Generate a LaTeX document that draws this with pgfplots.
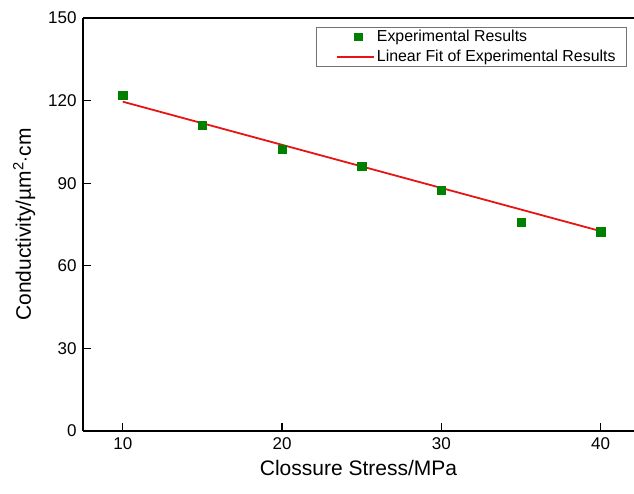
\documentclass[border=0pt]{standalone}
\usepackage{fontspec}
\setmainfont{Liberation Sans}
\usepackage{pgfplots}
\pgfplotsset{compat=1.18}
\definecolor{ptgreen}{RGB}{0,128,0}
\definecolor{fitred}{RGB}{232,20,20}
\pgfplotsset{
  markleg/.style={legend image code/.code={\path[draw=none] (0cm,0cm) -- (1.7cm,0cm);\draw[ptgreen] plot[mark=square*,mark size=3.8pt] coordinates {(1.15cm,0cm)};}},
  lineleg/.style={legend image code/.code={\path[draw=none] (0cm,0cm) -- (1.7cm,0cm);\draw[fitred,line width=1.8pt] (0.4cm,0cm) -- (1.7cm,0cm);}},
}

\begin{document}
\begin{tikzpicture}
\begin{axis}[
  scale only axis,
  width=551pt,height=413pt,
  xmin=7.5,xmax=42.1,
  ymin=0,ymax=150,
  xtick={10,20,30,40},
  ytick={0,30,...,150},
  axis lines=left,
  axis line style={-,line width=1.3pt},
  tick style={line width=1.2pt,black},
  tick align=inside,
  major tick length=8pt,
  ticklabel style={font=\fontsize{17}{20}\selectfont},
  /pgf/number format/assume math mode=true,
  xticklabel style={yshift=-3pt},
  yticklabel style={xshift=-3pt},
  xlabel={Clossure Stress/MPa},
  ylabel={Conductivity/\textmu m\textsuperscript{2}$\cdot$cm},
  label style={font=\fontsize{21}{24}\selectfont},
  xlabel style={yshift=-4pt},
  ylabel style={yshift=6pt},
  legend cell align=left,
  legend style={at={(0.987,0.978)},anchor=north east,
    draw=black!55,line width=0.6pt,
    font=\fontsize{15.9}{17}\selectfont,
    row sep=3pt,inner xsep=9pt,inner ysep=1pt},
]
\addplot[only marks,mark=square*,mark size=4.2pt,color=ptgreen,markleg]
  coordinates {
  (10,122.0) (15,111.0) (20,102.3) (25,96.2) (30,87.4) (35,75.8) (40,72.4)};
\addlegendentry{Experimental Results}
\addplot[mark=none,color=fitred,line width=1.8pt,lineleg]
  coordinates {(10,119.6) (40,72.6)};
\addlegendentry{Linear Fit of Experimental Results}
\draw[line width=1.3pt] (rel axis cs:0,1) -- (rel axis cs:1,1);
\end{axis}
\pgfresetboundingbox
\path (-83pt,-63pt) rectangle (551pt,431pt);
\end{tikzpicture}
\end{document}
